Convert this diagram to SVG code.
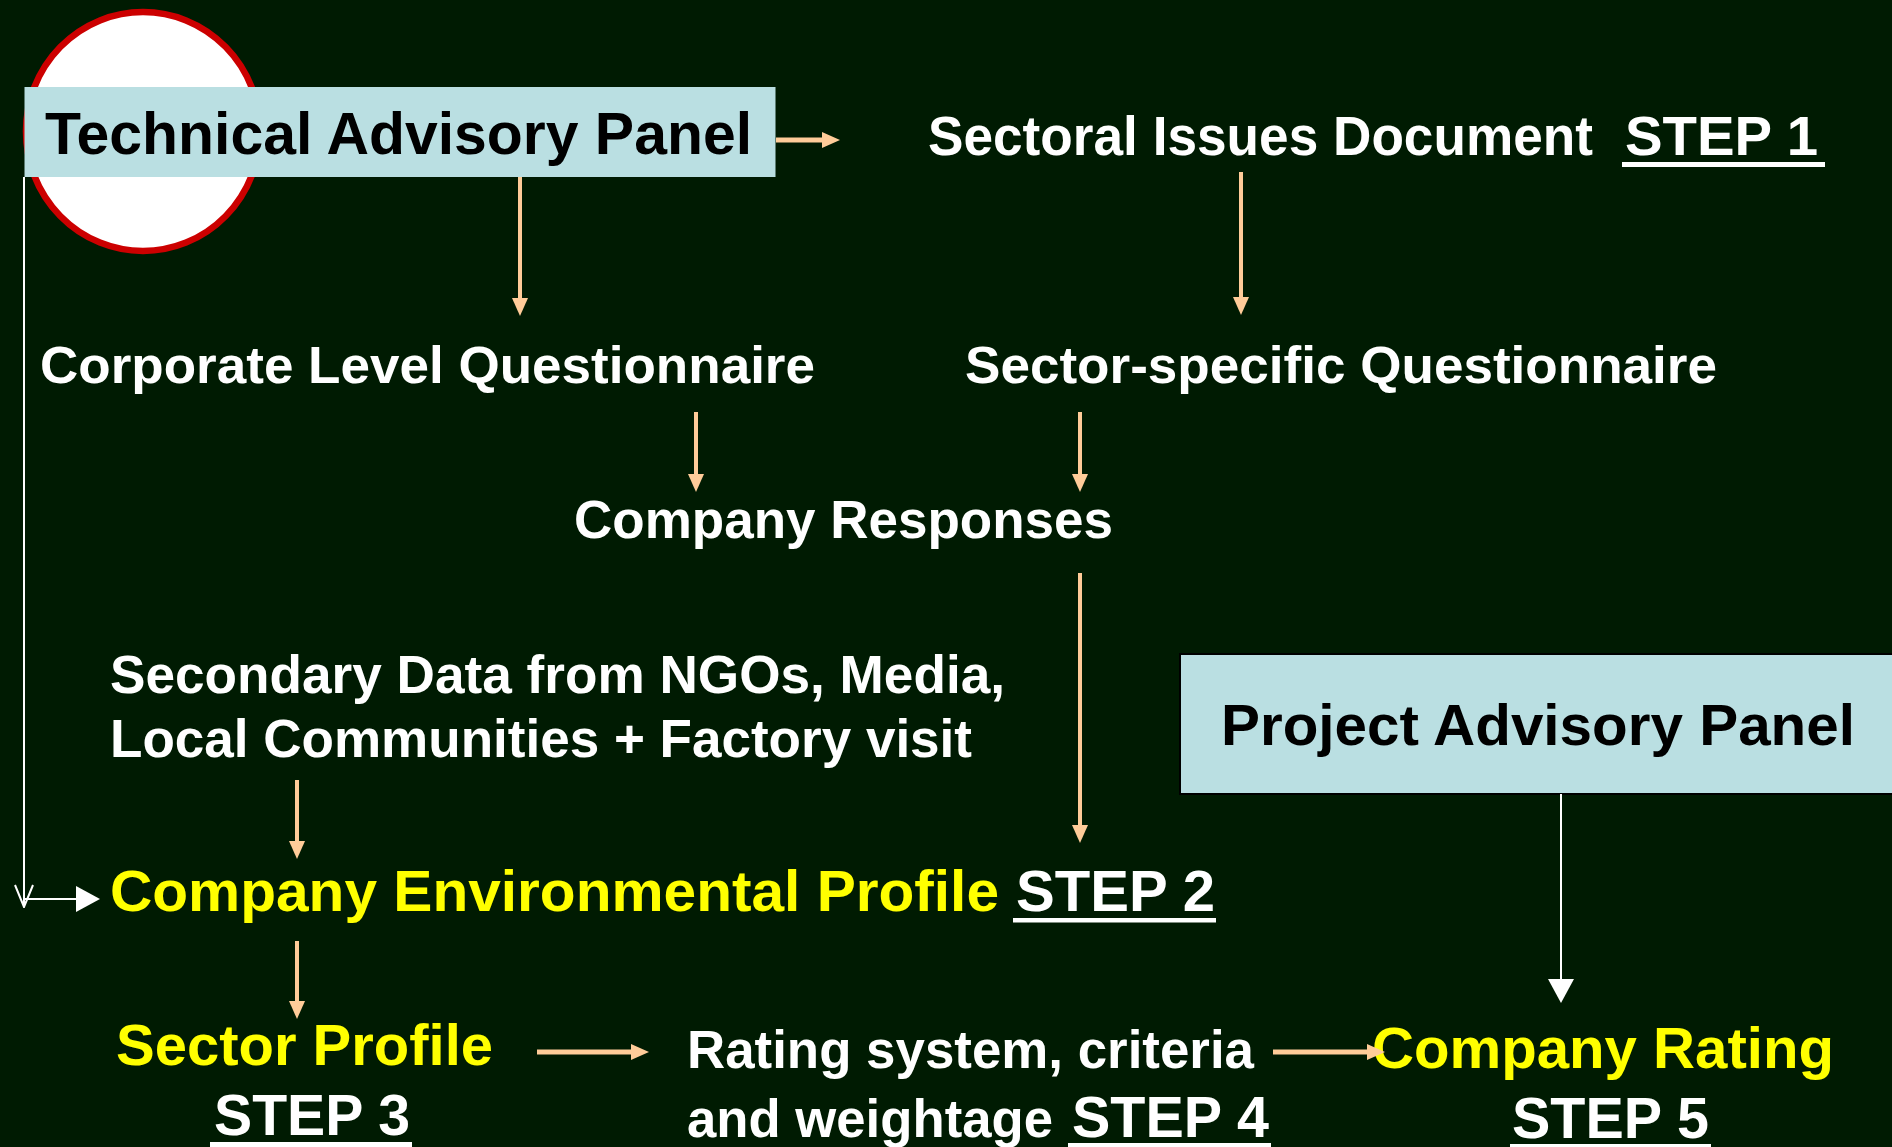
<svg xmlns="http://www.w3.org/2000/svg" width="1892" height="1147" viewBox="0 0 1892 1147">
  <style>
    text { font-family: "Liberation Sans", Arial, sans-serif; font-weight: bold; }
    .dark { fill: #000000; }
    .wht { fill: #ffffff; }
    .yel { fill: #ffff00; }
    .panel { fill: #badfe2; }
    .ul { fill: #ffffff; }
    .peach { stroke: #ffcc99; fill: none; marker-end: url(#ah-peach); }
    .pv { stroke-width: 4; }
    .ph { stroke-width: 5; }
    .wline { stroke: #ffffff; stroke-width: 2; fill: none; }
  </style>
  <defs>
    <marker id="ah-peach" markerUnits="userSpaceOnUse" markerWidth="18" markerHeight="16" viewBox="0 0 18 16" refX="1" refY="8" orient="auto">
      <path d="M0,0 L18,8 L0,16 z" fill="#ffcc99"/>
    </marker>
    <marker id="ah-white" markerUnits="userSpaceOnUse" markerWidth="24" markerHeight="26" viewBox="0 0 24 26" refX="1" refY="13" orient="auto">
      <path d="M0,0 L24,13 L0,26 z" fill="#ffffff"/>
    </marker>
    <marker id="ah-open" markerUnits="userSpaceOnUse" markerWidth="24" markerHeight="20" viewBox="0 0 24 20" refX="23" refY="10" orient="auto">
      <path d="M1,1 L23,10 L1,19" fill="none" stroke="#ffffff" stroke-width="2"/>
    </marker>
  </defs>

  <!-- background -->
  <rect x="0" y="0" width="1892" height="1147" fill="#001b02"/>

  <!-- Technical Advisory Panel with its round badge -->
  <g id="technical-advisory-panel">
    <ellipse cx="143" cy="131.5" rx="117" ry="119.5" fill="#ffffff" stroke="#cc0000" stroke-width="6.5"/>
    <rect class="panel" x="24.5" y="87" width="751" height="90"/>
    <text class="dark" x="45" y="154" font-size="59" textLength="707" lengthAdjust="spacingAndGlyphs">Technical Advisory Panel</text>
  </g>

  <g id="sectoral-issues-document">
    <text class="wht" x="928" y="155" font-size="55" textLength="665" lengthAdjust="spacingAndGlyphs">Sectoral Issues Document</text>
    <text class="wht" x="1625" y="155" font-size="56" textLength="193" lengthAdjust="spacingAndGlyphs">STEP 1</text>
    <rect class="ul" x="1622" y="162" width="203" height="5"/>
  </g>

  <g id="corporate-level-questionnaire">
    <text class="wht" x="40" y="383" font-size="52" textLength="775" lengthAdjust="spacingAndGlyphs">Corporate Level Questionnaire</text>
  </g>

  <g id="sector-specific-questionnaire">
    <text class="wht" x="965" y="383" font-size="52" textLength="752" lengthAdjust="spacingAndGlyphs">Sector-specific Questionnaire</text>
  </g>

  <g id="company-responses">
    <text class="wht" x="574" y="538" font-size="53" textLength="539" lengthAdjust="spacingAndGlyphs">Company Responses</text>
  </g>

  <g id="secondary-data">
    <text class="wht" x="110" y="693" font-size="53" textLength="895" lengthAdjust="spacingAndGlyphs">Secondary Data from NGOs, Media,</text>
    <text class="wht" x="110" y="757" font-size="53" textLength="862" lengthAdjust="spacingAndGlyphs">Local Communities + Factory visit</text>
  </g>

  <g id="project-advisory-panel">
    <rect class="panel" x="1180" y="654" width="720" height="140" stroke="#000000" stroke-width="2"/>
    <text class="dark" x="1221" y="745" font-size="58" textLength="634" lengthAdjust="spacingAndGlyphs">Project Advisory Panel</text>
  </g>

  <g id="company-environmental-profile">
    <text class="yel" x="110" y="911" font-size="58" textLength="889" lengthAdjust="spacingAndGlyphs">Company Environmental Profile</text>
    <text class="wht" x="1016" y="911" font-size="58" textLength="199" lengthAdjust="spacingAndGlyphs">STEP 2</text>
    <rect class="ul" x="1013" y="918" width="203" height="4.5"/>
  </g>

  <g id="sector-profile">
    <text class="yel" x="116" y="1065" font-size="58" textLength="377" lengthAdjust="spacingAndGlyphs">Sector Profile</text>
    <text class="wht" x="214" y="1135" font-size="57" textLength="196" lengthAdjust="spacingAndGlyphs">STEP 3</text>
    <rect class="ul" x="210" y="1142" width="202" height="5"/>
  </g>

  <g id="rating-system">
    <text class="wht" x="687" y="1068" font-size="53" textLength="567" lengthAdjust="spacingAndGlyphs">Rating system, criteria</text>
    <text class="wht" x="687" y="1137" font-size="53" textLength="366" lengthAdjust="spacingAndGlyphs">and weightage</text>
    <text class="wht" x="1072" y="1137" font-size="57" textLength="197" lengthAdjust="spacingAndGlyphs">STEP 4</text>
    <rect class="ul" x="1068" y="1143" width="203" height="5"/>
  </g>

  <g id="company-rating">
    <text class="yel" x="1372" y="1068" font-size="58" textLength="462" lengthAdjust="spacingAndGlyphs">Company Rating</text>
    <text class="wht" x="1512" y="1138" font-size="57" textLength="197" lengthAdjust="spacingAndGlyphs">STEP 5</text>
    <rect class="ul" x="1510" y="1144" width="201" height="5"/>
  </g>

  <!-- connectors -->
  <g id="connectors">
    <line class="peach ph" x1="776" y1="140" x2="823" y2="140"/>
    <line class="peach pv" x1="520" y1="177" x2="520" y2="299"/>
    <line class="peach pv" x1="1241" y1="172" x2="1241" y2="298"/>
    <line class="peach pv" x1="696" y1="412" x2="696" y2="475"/>
    <line class="peach pv" x1="1080" y1="412" x2="1080" y2="475"/>
    <line class="peach pv" x1="1080" y1="573" x2="1080" y2="826"/>
    <line class="peach pv" x1="297" y1="780" x2="297" y2="842"/>
    <line class="peach pv" x1="297" y1="941" x2="297" y2="1002"/>
    <line class="peach ph" x1="537" y1="1052" x2="632" y2="1052"/>
    <line class="peach ph" x1="1273" y1="1052" x2="1368" y2="1052"/>
    <line class="wline" x1="24" y1="177" x2="24" y2="907" marker-end="url(#ah-open)"/>
    <line class="wline" x1="24" y1="899" x2="77" y2="899" marker-end="url(#ah-white)"/>
    <line class="wline" x1="1561" y1="794" x2="1561" y2="980" marker-end="url(#ah-white)"/>
  </g>
</svg>
